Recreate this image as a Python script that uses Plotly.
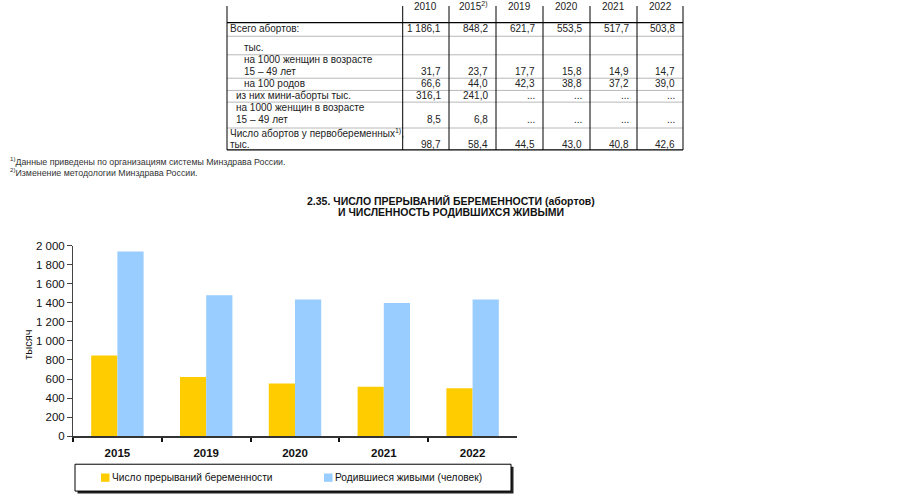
import plotly.graph_objects as go

# ---------------- data ----------------
chart_years = ["2015", "2019", "2020", "2021", "2022"]
abortions = [848.2, 621.7, 553.5, 517.7, 503.8]
births = [1940.6, 1481.1, 1436.5, 1398.3, 1436.5]
series_names = ["Число прерываний беременности", "Родившиеся живыми (человек)"]
y_ticks = [0, 200, 400, 600, 800, 1000, 1200, 1400, 1600, 1800, 2000]

table_years = ["2010", "2015<sup>2)</sup>", "2019", "2020", "2021", "2022"]
row_labels = [
    "Всего абортов:",
    "тыс.",
    "на 1000 женщин в возрасте",
    "15 – 49 лет",
    "на 100 родов",
    "из них мини-аборты тыс.",
    "на 1000 женщин в возрасте",
    "15 – 49 лет",
    "Число абортов у первобеременных<sup>1)</sup>,",
    "тыс.",
]
row_total = ["1 186,1", "848,2", "621,7", "553,5", "517,7", "503,8"]
row_per1000 = ["31,7", "23,7", "17,7", "15,8", "14,9", "14,7"]
row_per100 = ["66,6", "44,0", "42,3", "38,8", "37,2", "39,0"]
row_mini = ["316,1", "241,0", "...", "...", "...", "..."]
row_mini_per1000 = ["8,5", "6,8", "...", "...", "...", "..."]
row_first = ["98,7", "58,4", "44,5", "43,0", "40,8", "42,6"]
footnotes = [
    "<sup>1)</sup>Данные приведены по организациям системы Минздрава России.",
    "<sup>2)</sup>Изменение методологии Минздрава России.",
]
title_lines = ["2.35. ЧИСЛО ПРЕРЫВАНИЙ БЕРЕМЕННОСТИ (абортов)", "И ЧИСЛЕННОСТЬ РОДИВШИХСЯ ЖИВЫМИ"]
y_title = "тысяч"

# ---------------- helpers ----------------
W, H = 900, 500
FONT = "Arial, Liberation Sans, sans-serif"


def X(px):
    return px / W


def Y(py):
    return 1 - py / H


annotations = []
shapes = []


def text(px, py, s, size=10, anchor="left", color="#222", bold=False, angle=0, yanchor="middle"):
    annotations.append(dict(
        x=X(px), y=Y(py), xref="paper", yref="paper", text=s, showarrow=False,
        xanchor=anchor, yanchor=yanchor, textangle=angle, borderpad=0,
        font=dict(family=FONT, size=size, color=color, weight="bold" if bold else "normal"),
    ))


def line(x0, y0, x1, y1, color="#000", width=1):
    shapes.append(dict(type="line", xref="paper", yref="paper",
                       x0=X(x0), y0=Y(y0), x1=X(x1), y1=Y(y1),
                       line=dict(color=color, width=width)))


def rect(x0, y0, x1, y1, fill, lcolor=None, lwidth=0):
    shapes.append(dict(type="rect", xref="paper", yref="paper",
                       x0=X(x0), y0=Y(y0), x1=X(x1), y1=Y(y1), fillcolor=fill,
                       line=dict(color=lcolor or fill, width=lwidth)))


# ---------------- table ----------------
col_edges = [227, 402.7, 449, 496, 543, 590, 637, 683]
tbl_top, tbl_bottom, head_line = 0, 147.5, 17

for yy in [31, 50, 74, 86.5, 98.5, 125]:
    line(col_edges[0], yy, col_edges[-1], yy, color="#b8b8b8", width=1)
line(col_edges[0], head_line, col_edges[-1], head_line, color="#000", width=1.2)
line(col_edges[0], tbl_bottom, col_edges[-1], tbl_bottom, color="#000", width=1.2)
for xe in col_edges:
    line(xe, tbl_top, xe, tbl_bottom, color="#000", width=1)

for i, yr in enumerate(table_years):
    text((col_edges[i + 1] + col_edges[i + 2]) / 2, 0.5, yr, anchor="center")

label_rows = [23.5, 43, 55, 67.5, 79.5, 92, 103.5, 116.5, 130, 141.5]
label_x = [228.5, 243, 243, 243, 243, 235, 235, 235, 228.5, 228.5]
for lab, lx, ly in zip(row_labels, label_x, label_rows):
    text(lx, ly, lab)

value_rows = [(row_total, 23.5), (row_per1000, 67.5), (row_per100, 79.5),
              (row_mini, 92), (row_mini_per1000, 116.5), (row_first, 141.5)]
for vals, vy in value_rows:
    for i, v in enumerate(vals):
        text(col_edges[i + 2] - 7.5, vy, v, anchor="right")

# ---------------- footnotes & title ----------------
text(9, 159, footnotes[0], size=8.8, color="#333")
text(9, 170.5, footnotes[1], size=8.8, color="#333")
text(451, 199.5, title_lines[0], size=10.5, anchor="center", color="#111", bold=True)
text(451, 211, title_lines[1], size=10.5, anchor="center", color="#111", bold=True)

# ---------------- chart ----------------
colors = ["#FFCC00", "#99CCFF"]
fig = go.Figure()
fig.add_trace(go.Bar(x=chart_years, y=abortions, name=series_names[0],
                     marker=dict(color=colors[0], line=dict(width=0)), showlegend=False))
fig.add_trace(go.Bar(x=chart_years, y=births, name=series_names[1],
                     marker=dict(color=colors[1], line=dict(width=0)), showlegend=False))

text(28, 347, y_title, size=11, anchor="center", angle=-90, color="#111")

# legend (manual box with shadow)
rect(77.5, 472, 513.5, 499.5, "#222")
rect(75, 469.5, 511, 497, "#fff", lcolor="#000", lwidth=1)
rect(101, 479, 109.5, 487.5, colors[0])
rect(324, 479, 332.5, 487.5, colors[1])
text(110.5, 483.5, series_names[0], size=10.2, color="#111")
text(333.5, 483.5, series_names[1], size=10.2, color="#111")

fig.update_layout(
    width=W, height=H,
    margin=dict(l=0, r=0, t=0, b=0),
    paper_bgcolor="#fff", plot_bgcolor="#fff",
    barmode="group", bargap=0.41, bargroupgap=0,
    separators=", ",
    font=dict(family=FONT, color="#111"),
    xaxis=dict(domain=[X(73), X(517)], type="category", showgrid=False,
               showline=True, linecolor="#333", linewidth=2,
               ticks="outside", tickson="boundaries", ticklen=4, tickcolor="#111", tickwidth=1.5,
               tickfont=dict(size=11.5, color="#111", weight="bold"), ticklabelstandoff=5),
    yaxis=dict(domain=[Y(440.7), Y(245.7)], range=[0, 2000], tickvals=y_ticks,
               tickformat=",d", showgrid=False, zeroline=False,
               showline=True, linecolor="#444", linewidth=1,
               ticks="outside", ticklen=5, tickcolor="#444",
               tickfont=dict(size=11.5, color="#111")),
    annotations=annotations, shapes=shapes,
)

fig.write_html(
    "out.html",
    config={"displayModeBar": False},
    post_script="var s='margin:0;padding:0;height:500px;width:900px;overflow:hidden;';"
                "document.documentElement.style.cssText=s;document.body.style.cssText=s;",
)
